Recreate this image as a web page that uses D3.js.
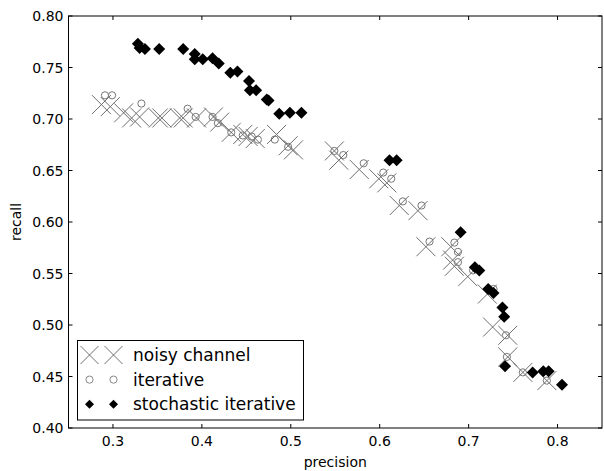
<html>
<head>
<style>
  body { margin: 0; background: #fff; }
  text { font-family: "DejaVu Sans", sans-serif; }
</style>
</head>
<body>
<script src="https://d3js.org/d3.v7.min.js"></script>
<script>

    // precision / recall pairs
    var noisyP = [0.287, 0.297, 0.312, 0.321, 0.330, 0.351, 0.355, 0.375, 0.379, 0.394, 0.413, 0.420,
        0.433, 0.446, 0.452, 0.460, 0.484, 0.497, 0.503, 0.549, 0.554, 0.577, 0.599, 0.608, 0.622,
        0.643, 0.652, 0.680, 0.682, 0.684, 0.699, 0.721, 0.727, 0.744, 0.744, 0.761, 0.788];
    var noisyR = [0.714, 0.712, 0.706, 0.701, 0.702, 0.701, 0.701, 0.701, 0.701, 0.701, 0.702, 0.697,
        0.687, 0.685, 0.683, 0.681, 0.685, 0.674, 0.670, 0.669, 0.660, 0.651, 0.642, 0.638, 0.616,
        0.611, 0.576, 0.576, 0.563, 0.557, 0.547, 0.530, 0.498, 0.490, 0.469, 0.454, 0.446];

    var iterP = [0.291, 0.299, 0.332, 0.384, 0.393, 0.412, 0.418, 0.433, 0.446, 0.456, 0.463, 0.482,
        0.497, 0.549, 0.559, 0.582, 0.604, 0.613, 0.626, 0.647, 0.656, 0.684, 0.688, 0.688, 0.705,
        0.728, 0.742, 0.743, 0.761, 0.788];
    var iterR = [0.723, 0.723, 0.715, 0.710, 0.702, 0.702, 0.696, 0.687, 0.684, 0.683, 0.680, 0.680,
        0.673, 0.669, 0.665, 0.657, 0.648, 0.642, 0.620, 0.616, 0.581, 0.580, 0.571, 0.561, 0.553,
        0.535, 0.490, 0.469, 0.454, 0.446];

    var stochP = [0.328, 0.330, 0.336, 0.352, 0.379, 0.392, 0.392, 0.401, 0.412, 0.419, 0.432, 0.440,
        0.453, 0.454, 0.461, 0.473, 0.475, 0.487, 0.499, 0.512, 0.611, 0.619, 0.691, 0.707, 0.712,
        0.722, 0.728, 0.738, 0.740, 0.741, 0.772, 0.784, 0.790, 0.805];
    var stochR = [0.773, 0.769, 0.768, 0.768, 0.768, 0.763, 0.758, 0.758, 0.759, 0.754, 0.745, 0.746,
        0.737, 0.728, 0.728, 0.719, 0.718, 0.705, 0.706, 0.706, 0.660, 0.660, 0.590, 0.556, 0.553,
        0.535, 0.531, 0.517, 0.508, 0.460, 0.454, 0.455, 0.455, 0.442];

    var xTicks = [0.3, 0.4, 0.5, 0.6, 0.7, 0.8];
    var yTicks = [0.40, 0.45, 0.50, 0.55, 0.60, 0.65, 0.70, 0.75, 0.80];

    var width = 604, height = 471;
    var mLeft = 68.5, mRight = 602, mTop = 16, mBottom = 428;

    var x = d3.scaleLinear().domain([0.25, 0.85]).range([mLeft, mRight]);
    var y = d3.scaleLinear().domain([0.40, 0.80]).range([mBottom, mTop]);

    var svg = d3.select("body").append("svg").attr("width", width).attr("height", height);

    function zip(a, b) { return a.map(function (v, i) { return [v, b[i]]; }); }

    function cross(g, s, color) {
        g.append("path").attr("d", "M" + -s + "," + -s + "L" + s + "," + s + "M" + -s + "," + s + "L" + s + "," + -s)
            .attr("stroke", color).attr("stroke-width", 1).attr("fill", "none");
    }
    function ring(g, r, color) {
        g.append("circle").attr("r", r).attr("fill", "none").attr("stroke", color).attr("stroke-width", 1);
    }
    function diamond(g, s) {
        g.append("path").attr("d", "M0," + -s + "L" + s + ",0L0," + s + "L" + -s + ",0Z").attr("fill", "#000");
    }

    var plot = svg.append("g");

    plot.selectAll(".noisy").data(zip(noisyP, noisyR)).enter().append("g")
        .attr("transform", function (d) { return "translate(" + x(d[0]) + "," + y(d[1]) + ")"; })
        .each(function () { cross(d3.select(this), 9.5, "#6e6e6e"); });

    plot.selectAll(".iter").data(zip(iterP, iterR)).enter().append("g")
        .attr("transform", function (d) { return "translate(" + x(d[0]) + "," + y(d[1]) + ")"; })
        .each(function () { ring(d3.select(this), 3.6, "#777"); });

    plot.selectAll(".stoch").data(zip(stochP, stochR)).enter().append("g")
        .attr("transform", function (d) { return "translate(" + x(d[0]) + "," + y(d[1]) + ")"; })
        .each(function () { diamond(d3.select(this), 6); });

    // frame
    svg.append("rect").attr("x", mLeft).attr("y", mTop).attr("width", mRight - mLeft).attr("height", mBottom - mTop)
        .attr("fill", "none").attr("stroke", "#000").attr("stroke-width", 1);

    // ticks, inward on all four sides
    var tk = svg.append("g").attr("stroke", "#000").attr("stroke-width", 1);
    xTicks.forEach(function (t) {
        tk.append("line").attr("x1", x(t)).attr("x2", x(t)).attr("y1", mBottom).attr("y2", mBottom - 4);
        tk.append("line").attr("x1", x(t)).attr("x2", x(t)).attr("y1", mTop).attr("y2", mTop + 4);
    });
    yTicks.forEach(function (t) {
        tk.append("line").attr("x1", mLeft).attr("x2", mLeft + 4).attr("y1", y(t)).attr("y2", y(t));
        tk.append("line").attr("x1", mRight).attr("x2", mRight - 4).attr("y1", y(t)).attr("y2", y(t));
    });

    svg.append("g").selectAll("text").data(xTicks).enter().append("text")
        .attr("x", function (d) { return x(d); }).attr("y", mBottom + 18)
        .attr("text-anchor", "middle").attr("font-size", 14).text(function (d) { return d3.format(".1f")(d); });

    svg.append("g").selectAll("text").data(yTicks).enter().append("text")
        .attr("x", mLeft - 5).attr("y", function (d) { return y(d) + 5; })
        .attr("text-anchor", "end").attr("font-size", 14).text(function (d) { return d3.format(".2f")(d); });

    svg.append("text").attr("x", (mLeft + mRight) / 2).attr("y", 467).attr("text-anchor", "middle")
        .attr("font-size", 14).text("precision");
    svg.append("text").attr("transform", "translate(21," + (mTop + mBottom) / 2 + ") rotate(-90)")
        .attr("text-anchor", "middle").attr("font-size", 14).text("recall");

    // legend
    var lg = svg.append("g");
    lg.append("rect").attr("x", 77.5).attr("y", 340.5).attr("width", 226).attr("height", 79.5)
        .attr("fill", "#fff").attr("stroke", "#000").attr("stroke-width", 1);
    var entries = [
        {label: "noisy channel", draw: function (g) { cross(g, 9, "#6e6e6e"); }},
        {label: "iterative", draw: function (g) { ring(g, 3.6, "#888"); }},
        {label: "stochastic iterative", draw: function (g) { diamond(g, 4.5); }}
    ];
    entries.forEach(function (e, i) {
        var yy = 355 + i * 24.6;
        [89.5, 113.5].forEach(function (mx) {
            e.draw(lg.append("g").attr("transform", "translate(" + mx + "," + yy + ")"));
        });
        lg.append("text").attr("x", 133).attr("y", yy + 6).attr("font-size", 17).text(e.label);
    });

</script>
</body>
</html>
